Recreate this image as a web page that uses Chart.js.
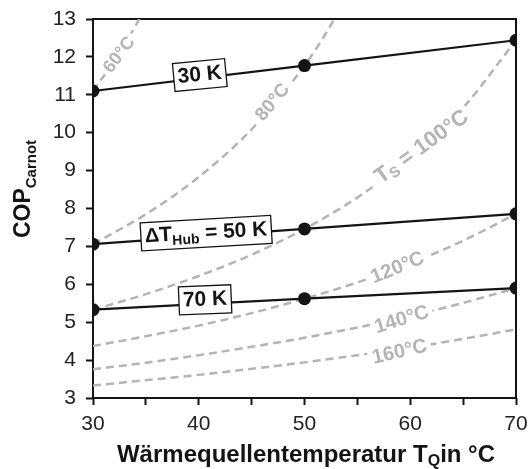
<!DOCTYPE html>
<html>
<head>
<meta charset="utf-8">
<script src="https://cdn.jsdelivr.net/npm/chart.js@4.4.1/dist/chart.umd.min.js"></script>
<style>
  html, body { margin: 0; padding: 0; background: #fff; }
  #wrap { width: 529px; height: 469px; position: relative; }
</style>
</head>
<body>
<div id="wrap"><canvas id="copChart"></canvas></div>
<script>
// COP Carnot over source temperature
const sourceTemps = [30, 50, 70];
const cop30K = [11.10, 11.77, 12.44];
const cop50K = [7.06, 7.46, 7.86];
const cop70K = [5.33, 5.62, 5.90];

// sink temperature curves
const curveTemps = [30, 35, 40, 45, 50, 55, 60, 65, 70];
const ts60Temps = [30, 31, 32, 33, 34, 35];
const ts60 = [11.10, 11.49, 11.90, 12.34, 12.81, 13.33];
const ts80Temps = [30, 35, 40, 45, 50, 52, 54];
const ts80 = [7.06, 7.85, 8.83, 10.09, 11.77, 12.61, 13.58];
const ts100 = [5.33, 5.74, 6.22, 6.78, 7.46, 8.29, 9.33, 10.66, 12.44];
const ts120 = [4.37, 4.63, 4.91, 5.24, 5.62, 6.05, 6.55, 7.15, 7.86];
const ts140 = [3.76, 3.93, 4.13, 4.35, 4.59, 4.86, 5.16, 5.51, 5.90];
const ts160 = [3.33, 3.47, 3.61, 3.77, 3.94, 4.13, 4.33, 4.56, 4.81];

const xTicks = [30, 40, 50, 60, 70];

const FONT = "'Liberation Sans', Arial, sans-serif";
const GRAY = '#b4b4b4';
const BLACK = '#141414';

function pts(xs, ys) {
    return xs.map((x, i) => ({ x: x, y: ys[i] }));
}

function blackLine(values) {
    return {
        data: pts(sourceTemps, values),
        showLine: true,
        borderColor: BLACK,
        backgroundColor: BLACK,
        borderWidth: 2.2,
        pointRadius: 6.5,
        pointHoverRadius: 6.5,
        pointBorderWidth: 0
    };
}

function grayCurve(xs, values) {
    return {
        data: pts(xs, values),
        showLine: true,
        borderColor: GRAY,
        borderWidth: 2.5,
        borderDash: [8, 5],
        pointRadius: 0,
        cubicInterpolationMode: 'monotone'
    };
}

// text parts: [text, size, baselineShift]
function partsWidth(ctx, parts) {
    let w = 0;
    parts.forEach(p => {
        ctx.font = 'bold ' + p[1] + 'px ' + FONT;
        w += ctx.measureText(p[0]).width;
    });
    return w;
}

function drawParts(ctx, parts, x0, color) {
    let x = x0;
    ctx.fillStyle = color;
    ctx.textBaseline = 'middle';
    ctx.textAlign = 'left';
    parts.forEach(p => {
        ctx.font = 'bold ' + p[1] + 'px ' + FONT;
        ctx.fillText(p[0], x, p[2] || 0);
        x += ctx.measureText(p[0]).width;
    });
}

// gray sink temperature labels: [x, y, angle, parts]
const grayLabels = [
    [32.5, 12.05, -53, [['60°C', 18]]],
    [47.0, 10.80, -50, [['80°C', 19]]],
    [61.1, 9.62, -36, [['T', 22], ['S', 15, 5], [' = 100°C', 22]]],
    [58.8, 6.43, -22, [['120°C', 20]]],
    [59.2, 5.06, -17, [['140°C', 20]]],
    [59.0, 4.21, -13, [['160°C', 20]]]
];

// boxed lift labels: [x, y, line values, parts]
const boxLabels = [
    [40.1, 11.52, cop30K, [['30 K', 21]]],
    [40.7, 7.35, cop50K, [['Δ', 20], ['T', 21], ['Hub', 14, 6], [' = 50 K', 21]]],
    [40.6, 5.59, cop70K, [['70 K', 21]]]
];

const decorPlugin = {
    id: 'decor',
    beforeDatasetsDraw(chart) {
        const { ctx, chartArea: a } = chart;
        ctx.save();
        ctx.strokeStyle = BLACK;
        ctx.lineWidth = 2;
        ctx.strokeRect(a.left, a.top, a.right - a.left, a.bottom - a.top);
        ctx.restore();
    },
    afterDatasetDraw(chart, args) {
        if (args.index !== 3) return;
        const { ctx, scales } = chart;
        grayLabels.forEach(l => {
            const px = scales.x.getPixelForValue(l[0]);
            const py = scales.y.getPixelForValue(l[1]);
            const h = l[3][0][1] + 2;
            ctx.save();
            ctx.translate(px, py);
            ctx.rotate(l[2] * Math.PI / 180);
            const w = partsWidth(ctx, l[3]);
            ctx.fillStyle = '#fff';
            ctx.fillRect(-w / 2 - 4, -h / 2, w + 8, h);
            drawParts(ctx, l[3], -w / 2, GRAY);
            ctx.restore();
        });
    },
    afterDatasetsDraw(chart) {
        const { ctx, scales } = chart;
        boxLabels.forEach(l => {
            const px = scales.x.getPixelForValue(l[0]);
            const py = scales.y.getPixelForValue(l[1]);
            const v = l[2];
            const dx = scales.x.getPixelForValue(sourceTemps[2]) - scales.x.getPixelForValue(sourceTemps[0]);
            const dy = scales.y.getPixelForValue(v[2]) - scales.y.getPixelForValue(v[0]);
            ctx.save();
            ctx.translate(px, py);
            ctx.rotate(Math.atan2(dy, dx) * 0.8);
            const w = partsWidth(ctx, l[3]);
            ctx.fillStyle = '#fff';
            ctx.fillRect(-w / 2 - 4, -14, w + 8, 28);
            ctx.strokeStyle = BLACK;
            ctx.lineWidth = 1.3;
            ctx.strokeRect(-w / 2 - 4, -14, w + 8, 28);
            drawParts(ctx, l[3], -w / 2, BLACK);
            ctx.restore();
        });

        // axis titles with subscripts
        ctx.save();
        const xt = [['Wärmequellentemperatur T', 24], ['Q', 16, 7], ['in °C', 24]];
        const xw = partsWidth(ctx, xt);
        ctx.translate(306, 455);
        drawParts(ctx, xt, -xw / 2, BLACK);
        ctx.restore();

        ctx.save();
        const yt = [['COP', 23], ['Carnot', 15, 8]];
        const yw = partsWidth(ctx, yt);
        ctx.translate(24, 189);
        ctx.rotate(-Math.PI / 2);
        drawParts(ctx, yt, -yw / 2, BLACK);
        ctx.restore();
    }
};

new Chart(document.getElementById('copChart'), {
    type: 'scatter',
    data: {
        datasets: [
            blackLine(cop30K),
            blackLine(cop50K),
            blackLine(cop70K),
            grayCurve(ts60Temps, ts60),
            grayCurve(ts80Temps, ts80),
            grayCurve(curveTemps, ts100),
            grayCurve(curveTemps, ts120),
            grayCurve(curveTemps, ts140),
            grayCurve(curveTemps, ts160)
        ]
    },
    options: {
        responsive: true,
        maintainAspectRatio: false,
        animation: false,
        events: [],
        layout: { padding: { top: 19, right: 13, left: 0, bottom: 0 } },
        plugins: {
            legend: { display: false },
            tooltip: { enabled: false }
        },
        scales: {
            x: {
                type: 'linear',
                min: 30,
                max: 70,
                afterFit(scale) {
                    scale.height = 71;
                    scale.paddingLeft = 0;
                    scale.paddingRight = 0;
                },
                afterBuildTicks(scale) {
                    const t = [];
                    for (let v = 30; v <= 70; v += 5) t.push({ value: v });
                    scale.ticks = t;
                },
                ticks: {
                    autoSkip: false,
                    maxRotation: 0,
                    padding: 7,
                    color: '#222',
                    font: { family: FONT, size: 21 },
                    callback: v => xTicks.includes(v) ? String(v) : ''
                },
                grid: {
                    drawOnChartArea: false,
                    drawTicks: true,
                    tickLength: 7,
                    tickColor: BLACK,
                    tickWidth: 2
                },
                border: { display: false }
            },
            y: {
                type: 'linear',
                min: 3,
                max: 13,
                afterFit(scale) {
                    scale.width = 93;
                    scale.paddingTop = 0;
                    scale.paddingBottom = 0;
                },
                ticks: {
                    stepSize: 1,
                    padding: 10,
                    color: '#222',
                    font: { family: FONT, size: 21 }
                },
                grid: {
                    drawOnChartArea: false,
                    drawTicks: true,
                    tickLength: 7,
                    tickColor: BLACK,
                    tickWidth: 2
                },
                border: { display: false }
            }
        }
    },
    plugins: [decorPlugin]
});
</script>
</body>
</html>
